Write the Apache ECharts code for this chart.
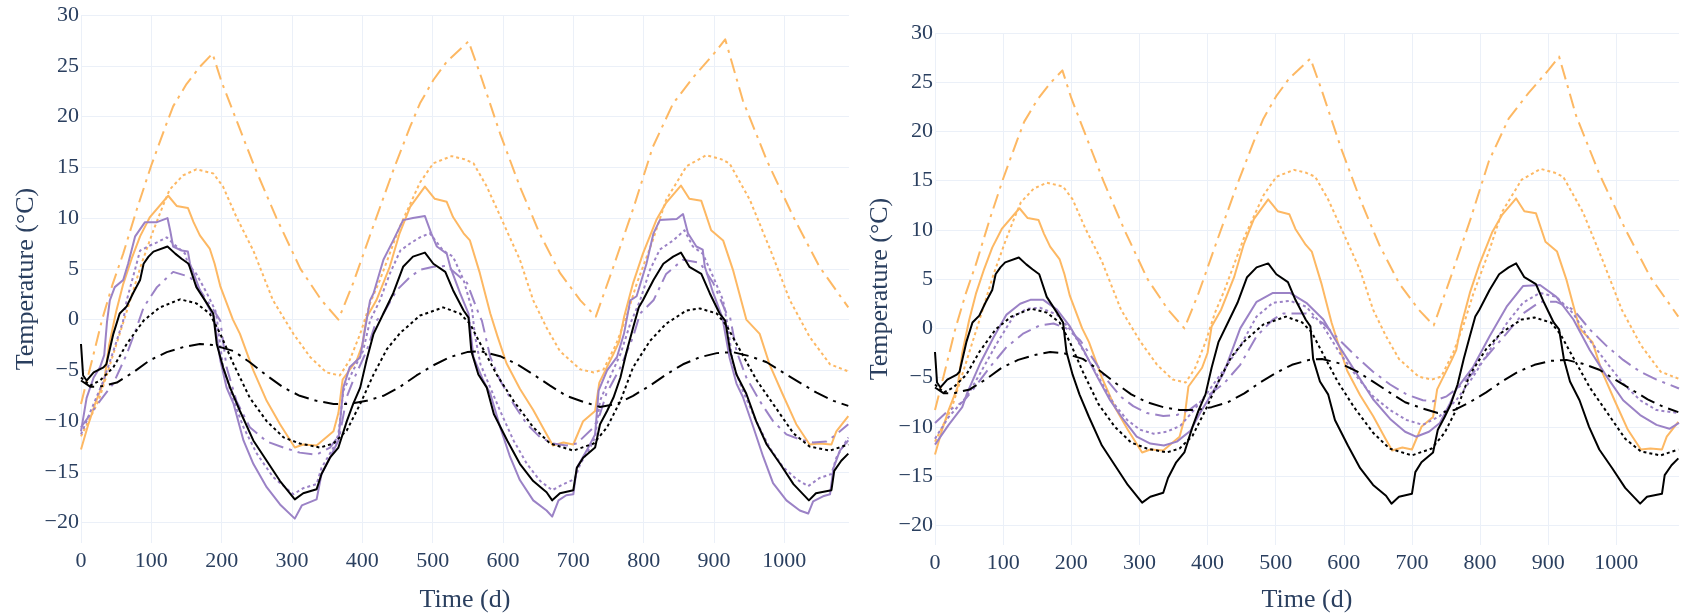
<!DOCTYPE html>
<html>
<head>
<meta charset="utf-8">
<script src="https://cdn.jsdelivr.net/npm/echarts@6/dist/echarts.min.js"></script>
<style>
  html, body { margin: 0; padding: 0; background: #ffffff; }
  #chart { width: 1682px; height: 616px; }
</style>
</head>
<body>
<div id="chart"></div>
<script>
// Axis ticks
const dayTicks = [0, 100, 200, 300, 400, 500, 600, 700, 800, 900, 1000];
const tempTicks = [-20, -15, -10, -5, 0, 5, 10, 15, 20, 25, 30];

// Temperature series, [day, °C]
const orangeSolid = [[0,-12.8],[10,-10.4],[20,-8.3],[33,-6.0],[40,-2.5],[50,0.8],[60,3.5],[72,6.0],[84,8.2],[98,10.1],[124,12.2],[136,11.2],[152,11.0],[160,9.6],[169,8.3],[183,7.0],[190,5.5],[198,3.3],[216,0],[226,-1.4],[245,-5.0],[264,-8.0],[283,-10.3],[304,-12.6],[316,-12.3],[335,-12.4],[359,-11.0],[366,-9.2],[372,-5.9],[392,-4.0],[400,-2.5],[406,0.2],[420,1.9],[439,5.2],[453,8.5],[468,11.1],[489,13.1],[503,11.9],[520,11.6],[529,10.1],[544,8.5],[553,7.8],[567,4.6],[582,0.6],[592,-1.6],[605,-4.3],[624,-6.8],[643,-8.9],[662,-11.3],[671,-12.4],[686,-12.1],[700,-12.3],[714,-10.0],[731,-9.0],[737,-6.2],[757,-3.4],[765,-2.2],[772,0.2],[785,3.6],[799,6.5],[818,9.8],[832,11.5],[853,13.2],[865,11.9],[882,11.7],[896,8.8],[913,7.8],[927,4.9],[946,0],[965,-1.4],[979,-4.4],[998,-7.4],[1017,-10.3],[1036,-12.3],[1050,-12.2],[1067,-12.3],[1074,-11.0],[1091,-9.5]];

const orangeDotted = [[0,-11.5],[25,-8],[45,-3.6],[65,0.8],[86,5.5],[103,8.8],[117,11.3],[126,12.8],[145,14.2],[164,14.8],[188,14.4],[202,13.1],[221,10.1],[245,6.8],[273,1.9],[302,-1.4],[326,-3.7],[349,-5.2],[368,-5.5],[382,-4.0],[397,-1.4],[411,1.6],[425,3.9],[453,9.1],[482,13.5],[501,15.4],[527,16.1],[545,15.8],[558,15.4],[577,13.1],[596,10.2],[624,5.9],[643,1.9],[662,-0.8],[681,-3.1],[710,-4.9],[729,-5.2],[743,-4.9],[761,-2.4],[776,0.4],[790,3.5],[813,7.8],[832,11.8],[861,15.1],[889,16.2],[910,15.8],[922,15.4],[951,11.8],[980,6.9],[1008,1.9],[1036,-1.7],[1065,-4.4],[1091,-5.1]];

const orangeDashDot = [[0,-8.3],[15,-4.2],[30,0],[45,3.5],[60,6.5],[80,11],[100,15.2],[120,19],[131,21],[150,23.2],[169,24.9],[187,26.2],[200,23.4],[219,20],[247,15],[278,10],[312,5],[342,1.9],[366,0],[387,3.6],[415,9.1],[444,14.7],[468,19],[482,21.3],[501,23.6],[520,25.4],[551,27.4],[567,24.3],[596,18.3],[624,13.1],[652,8.5],[681,4.6],[710,1.9],[732,0.3],[757,5.2],[786,11.1],[813,17],[842,21.3],[871,23.9],[900,26.2],[916,27.6],[941,21.6],[975,15.7],[1013,10.1],[1050,5.2],[1091,1.2]];

const purpleSolid = [[0,-11.0],[8,-7.7],[18,-5.7],[27,-4.7],[33,-3.5],[37,-0.2],[41,1.9],[48,3.2],[60,3.9],[67,5.5],[77,8.2],[91,9.6],[108,9.6],[123,10.0],[127,8.7],[131,7.2],[143,6.8],[152,6.7],[155,5.5],[169,2.9],[183,1.0],[189,0.3],[198,-4.0],[207,-6.7],[217,-8.3],[231,-11.9],[245,-14.2],[264,-16.5],[283,-18.2],[304,-19.6],[314,-18.3],[335,-17.7],[342,-15.2],[354,-13.6],[366,-11.9],[373,-6.7],[382,-4.7],[397,-3.7],[406,-0.1],[411,1.9],[416,2.6],[430,5.9],[444,7.8],[458,9.8],[472,10.0],[489,10.2],[498,8.5],[506,7.2],[520,6.5],[525,5.2],[539,2.6],[551,0.6],[558,-3.7],[572,-6.0],[582,-7.3],[596,-10.6],[610,-13.5],[624,-15.8],[643,-17.8],[662,-18.8],[670,-19.4],[679,-17.8],[690,-17.3],[700,-17.2],[705,-14.6],[719,-12.9],[731,-11.3],[736,-7.0],[748,-5.0],[762,-3.7],[772,-1.4],[781,1.9],[790,2.3],[804,5.5],[814,8.5],[823,9.8],[847,9.9],[856,10.4],[863,8.5],[875,7.2],[884,6.9],[887,5.2],[899,2.6],[912,0.2],[922,-3.7],[932,-6.3],[941,-7.6],[956,-10.6],[970,-13.5],[984,-16.1],[1003,-17.8],[1022,-18.8],[1034,-19.1],[1041,-17.9],[1055,-17.4],[1065,-17.2],[1070,-14.6],[1079,-12.9],[1091,-11.9]];

const purpleDotted = [[0,-11.3],[18,-8.3],[32,-6.0],[46,-3.1],[60,-0.1],[65,1.9],[74,4.2],[84,6.8],[98,7.3],[108,7.6],[122,8.1],[131,7.5],[148,6.5],[152,5.5],[164,4.5],[179,2.6],[191,0.9],[193,0.2],[202,-4.7],[217,-8.0],[231,-10.6],[250,-13.2],[273,-15.5],[302,-17.2],[316,-16.6],[335,-16.2],[342,-14.6],[359,-12.6],[366,-11.3],[373,-7.0],[387,-5.0],[401,-3.1],[411,-0.1],[425,1.9],[439,4.5],[454,6.8],[468,7.5],[482,8.1],[496,8.5],[515,6.8],[529,6.2],[544,3.9],[556,1.0],[560,-1.5],[568,-4.4],[582,-6.7],[596,-9.0],[615,-11.9],[634,-14.2],[653,-15.9],[670,-16.8],[686,-16.2],[702,-15.7],[710,-14.2],[724,-12.6],[731,-11.6],[738,-8.0],[752,-5.7],[767,-3.4],[781,-0.4],[795,1.9],[809,4.9],[823,6.9],[842,7.8],[858,8.8],[870,7.2],[884,6.5],[899,4.2],[913,1.9],[920,-0.8],[927,-4.4],[941,-7.0],[960,-10.0],[979,-12.6],[998,-14.5],[1017,-15.7],[1034,-16.4],[1050,-15.6],[1067,-15.2],[1074,-13.6],[1091,-11.6]];

const purpleDashDot = [[0,-10.6],[27,-8.0],[46,-6.3],[65,-3.4],[79,-0.8],[89,1.2],[108,3.2],[131,4.7],[155,4.2],[169,2.9],[188,1.0],[198,-0.1],[207,-4.7],[221,-8.0],[240,-10.6],[264,-12.0],[288,-12.6],[311,-13.1],[335,-13.3],[354,-12.6],[368,-11.3],[378,-7.6],[387,-6.0],[406,-3.1],[420,-0.1],[430,0.6],[449,2.9],[468,4.2],[482,4.9],[501,5.2],[520,5.3],[549,3.6],[567,0.3],[570,-0.1],[582,-3.7],[596,-6.0],[615,-8.3],[634,-10.3],[653,-11.6],[671,-12.2],[690,-12.4],[705,-12.2],[729,-10.6],[738,-9.3],[747,-7.3],[767,-4.7],[785,-1.7],[795,0.6],[814,1.9],[832,4.5],[856,5.9],[880,5.6],[899,3.6],[918,0.6],[923,0.2],[932,-3.1],[946,-5.7],[965,-8.0],[984,-10.0],[1003,-11.3],[1022,-11.8],[1041,-12.1],[1060,-12.0],[1074,-11.3],[1091,-10.3]];

const blackSolid = [[0,-2.4],[3,-5.5],[8,-6.0],[18,-5.2],[32,-4.7],[36,-4.4],[46,-1.4],[55,0.6],[65,1.3],[74,2.6],[84,3.9],[89,5.5],[96,6.2],[103,6.7],[123,7.2],[134,6.5],[143,6.0],[153,5.5],[164,3.2],[179,1.6],[188,0.6],[193,-2.4],[202,-4.7],[212,-6.7],[226,-9.0],[245,-11.9],[264,-13.9],[283,-15.9],[304,-17.7],[316,-17.1],[335,-16.7],[342,-15.2],[354,-13.6],[366,-12.6],[378,-10.0],[387,-8.3],[397,-6.7],[406,-4.0],[416,-1.4],[430,0.6],[444,2.6],[458,5.2],[472,6.2],[489,6.6],[501,5.5],[518,4.7],[529,2.9],[544,0.9],[551,0.2],[555,-3.1],[565,-5.4],[577,-6.7],[587,-9.3],[606,-11.9],[624,-14.2],[643,-15.9],[662,-17.0],[670,-17.8],[681,-17.1],[700,-16.8],[705,-14.6],[714,-13.6],[731,-12.6],[738,-10.3],[748,-9.0],[757,-7.7],[767,-5.7],[776,-3.1],[785,-0.8],[793,1.2],[799,1.9],[814,3.9],[828,5.5],[842,6.2],[853,6.6],[865,5.2],[882,4.5],[894,2.6],[908,0.6],[916,-0.1],[923,-3.1],[932,-5.4],[946,-7.3],[960,-10.0],[975,-12.3],[994,-14.2],[1013,-16.2],[1035,-17.8],[1045,-17.1],[1067,-16.8],[1071,-14.9],[1081,-13.9],[1091,-13.2]];

const blackDotted = [[0,-5.7],[13,-6.5],[27,-6.0],[46,-4.7],[65,-2.4],[89,-0.1],[112,1.2],[141,2.0],[164,1.6],[183,0.6],[198,-1.4],[217,-4.4],[240,-7.7],[264,-10.0],[288,-11.6],[311,-12.2],[340,-12.6],[359,-12.2],[378,-10.9],[397,-8.3],[416,-5.4],[435,-2.9],[454,-1.3],[482,0.4],[515,1.2],[539,0.6],[553,-0.4],[568,-2.4],[591,-5.4],[615,-8.0],[643,-10.6],[667,-12.2],[700,-12.9],[729,-12.2],[748,-10.6],[767,-8.0],[785,-4.7],[809,-2.1],[832,-0.4],[861,0.9],[880,1.1],[904,0.6],[918,-0.6],[937,-3.0],[961,-6.0],[986,-8.5],[1013,-11.2],[1036,-12.5],[1065,-12.9],[1091,-12.3]];

const blackDashDot = [[0,-6.0],[13,-6.6],[27,-6.6],[51,-6.2],[74,-5.2],[98,-4.0],[122,-3.2],[146,-2.7],[169,-2.4],[188,-2.5],[217,-3.1],[240,-4.2],[264,-5.5],[288,-6.7],[311,-7.5],[335,-8.0],[359,-8.3],[382,-8.3],[406,-8.0],[430,-7.5],[454,-6.6],[477,-5.5],[501,-4.5],[524,-3.7],[549,-3.2],[568,-3.1],[596,-3.6],[620,-4.4],[643,-5.4],[667,-6.5],[690,-7.5],[714,-8.1],[738,-8.6],[762,-8.3],[785,-7.5],[809,-6.5],[832,-5.4],[856,-4.4],[880,-3.7],[904,-3.3],[927,-3.2],[951,-3.6],[975,-4.2],[998,-5.2],[1022,-6.2],[1046,-7.2],[1070,-8.0],[1091,-8.5]];

// Alternative purple runs (second panel)
const purpleSolidAlt = [[0,-11.8],[20,-9.8],[40,-8.0],[47,-6.6],[66,-3.6],[86,-0.9],[105,1.4],[125,2.5],[140,2.9],[159,2.9],[179,1.9],[198,0.2],[218,-2.2],[238,-4.9],[257,-7.3],[277,-9.3],[296,-11.0],[316,-11.7],[336,-11.9],[355,-11.5],[375,-10.4],[389,-8.6],[404,-6.9],[424,-4.5],[448,0.0],[472,2.7],[496,3.6],[521,3.6],[545,2.6],[570,0.9],[594,-1.9],[619,-4.6],[643,-7.2],[668,-9.2],[690,-10.5],[706,-11.0],[725,-10.5],[741,-9.6],[756,-7.6],[765,-6.2],[790,-3.9],[814,-0.8],[839,2.2],[863,4.3],[888,4.4],[912,3.2],[937,0.9],[961,-2.2],[986,-4.9],[1010,-7.3],[1035,-8.8],[1059,-9.8],[1078,-10.2],[1092,-9.6]];

const purpleDottedAlt = [[0,-11.2],[20,-9.0],[47,-6.9],[66,-4.6],[91,-1.5],[115,1.2],[135,2.0],[154,2.1],[179,1.4],[203,-0.5],[223,-2.9],[242,-5.2],[262,-7.6],[282,-9.3],[301,-10.3],[321,-10.7],[340,-10.5],[360,-9.9],[380,-8.3],[399,-6.6],[424,-4.2],[448,-1.8],[472,1.2],[496,2.6],[521,2.8],[545,2.2],[570,0.2],[594,-2.5],[619,-4.9],[643,-6.9],[668,-8.3],[692,-9.3],[716,-9.8],[741,-8.9],[765,-7.3],[790,-4.9],[814,-2.2],[839,0.5],[863,2.6],[888,3.6],[912,3.2],[937,1.5],[961,-1.2],[986,-3.5],[1010,-5.6],[1035,-7.3],[1059,-8.3],[1092,-8.6]];

const purpleDashDotAlt = [[0,-9.6],[17,-8.5],[42,-7.4],[56,-6.2],[81,-3.9],[105,-1.9],[130,-0.5],[154,0.3],[174,0.5],[193,0],[213,-1.2],[233,-3.2],[252,-5.2],[272,-6.9],[291,-7.9],[311,-8.6],[335,-8.9],[355,-8.8],[375,-8.2],[399,-6.9],[424,-5.6],[448,-3.7],[472,-0.8],[496,0.9],[511,1.5],[545,1.5],[570,0.5],[594,-1.2],[619,-2.9],[643,-4.4],[668,-5.7],[692,-6.7],[716,-7.3],[731,-7.4],[751,-6.9],[770,-5.9],[790,-4.5],[814,-2.5],[839,-0.5],[863,1.5],[888,2.7],[912,2.7],[937,1.9],[961,-0.1],[986,-1.8],[1010,-3.2],[1035,-4.4],[1059,-5.2],[1092,-6.1]];

// Styling
const ORANGE = '#fdb863';
const PURPLE = '#9b82c6';
const BLACK = '#000000';
const DOT = [3, 3];
const LONG_DASH_DOT = [15, 6, 3, 6];
const FONT = '"Liberation Serif", "Times New Roman", serif';
const TEXT = '#2a3f5f';
const GRID = '#ebf0f8';

function line(data, color, dash, panel) {
  return {
    type: 'line',
    xAxisIndex: panel,
    yAxisIndex: panel,
    data: data,
    showSymbol: false,
    symbol: 'none',
    silent: true,
    lineStyle: { color: color, width: 2, type: dash || 'solid', cap: 'butt', join: 'round' }
  };
}

function panelSeries(panel, pSolid, pDotted, pDashDot) {
  return [
    line(orangeSolid, ORANGE, null, panel),
    line(orangeDotted, ORANGE, DOT, panel),
    line(orangeDashDot, ORANGE, LONG_DASH_DOT, panel),
    line(pSolid, PURPLE, null, panel),
    line(pDotted, PURPLE, DOT, panel),
    line(pDashDot, PURPLE, LONG_DASH_DOT, panel),
    line(blackSolid, BLACK, null, panel),
    line(blackDotted, BLACK, DOT, panel),
    line(blackDashDot, BLACK, LONG_DASH_DOT, panel)
  ];
}

const minus = v => String(v).replace('-', '\u2212');

function xAxis(grid) {
  return {
    type: 'value', gridIndex: grid, min: 0, max: 1092,
    axisLine: { show: false },
    axisTick: { show: false, customValues: dayTicks },
    axisLabel: { customValues: dayTicks, fontFamily: FONT, fontSize: 22, color: TEXT, margin: 7, formatter: minus },
    splitLine: { show: true, lineStyle: { color: GRID, width: 1 } }
  };
}

function yAxis(grid) {
  return {
    type: 'value', gridIndex: grid, min: -22, max: 30,
    axisLine: { show: false },
    axisTick: { show: false, customValues: tempTicks },
    axisLabel: { customValues: tempTicks, fontFamily: FONT, fontSize: 22, color: TEXT, margin: 2, formatter: minus },
    splitLine: { show: true, lineStyle: { color: GRID, width: 1 } }
  };
}

function title(text, x, y, vertical) {
  return {
    type: 'text', x: x, y: y, rotation: vertical ? Math.PI / 2 : 0,
    style: { text: text, fontFamily: FONT, fontSize: 26, fill: TEXT, align: 'center', verticalAlign: 'middle' }
  };
}

const chart = echarts.init(document.getElementById('chart'), null, { renderer: 'canvas' });
chart.setOption({
  animation: false,
  backgroundColor: '#ffffff',
  grid: [
    { left: 81, top: 15, width: 768, height: 528 },
    { left: 935, top: 33, width: 744, height: 512 }
  ],
  xAxis: [xAxis(0), xAxis(1)],
  yAxis: [yAxis(0), yAxis(1)],
  series: [
    ...panelSeries(0, purpleSolid, purpleDotted, purpleDashDot),
    ...panelSeries(1, purpleSolidAlt, purpleDottedAlt, purpleDashDotAlt)
  ],
  graphic: [
    title('Temperature (°C)', 26, 279, true),
    title('Temperature (°C)', 880, 289, true),
    title('Time (d)', 465, 600, false),
    title('Time (d)', 1307, 600, false)
  ]
});
</script>
</body>
</html>
